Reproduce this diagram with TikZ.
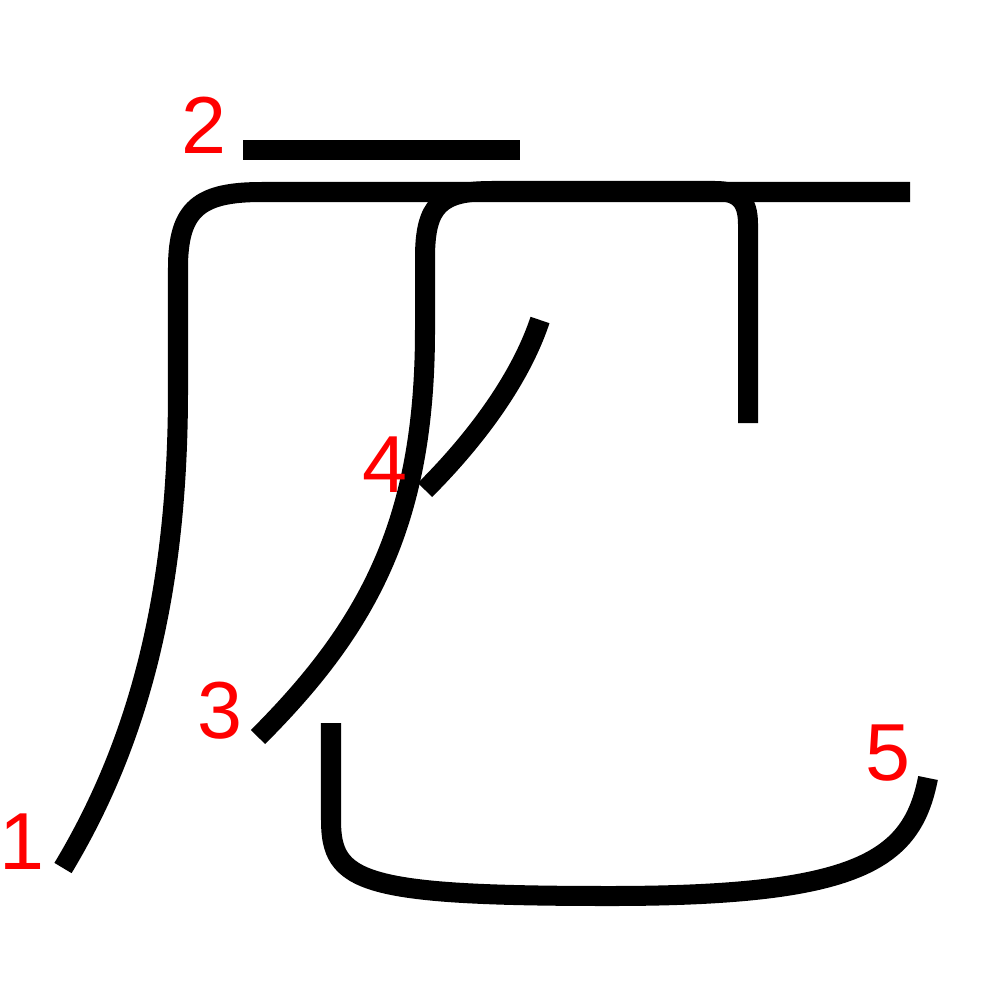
\documentclass[tikz,border=0pt]{standalone}
\usepackage{fontspec}
\setmainfont{Liberation Sans}
\begin{document}
\begin{tikzpicture}[x=0.01cm, y=-0.01cm,
    stroke/.style={line width=0.2cm, line cap=butt, line join=round},
    num/.style={text=red, font=\fontsize{23}{23}\selectfont, inner sep=0pt}]
			      \useasboundingbox (0, 0) rectangle (1000, 1000);

			      \draw[stroke] (63, 868) .. controls (140, 740) and (178, 590) .. (178, 390)
			                    -- (178, 268) .. controls (178, 208) and (200, 192) .. (262, 192)
			                    -- (910, 192);
			      \draw[stroke] (243, 150) -- (520, 150);
			      \draw[stroke] (258, 737) .. controls (370, 625) and (425, 520) .. (425, 330)
			                    -- (425, 258) .. controls (425, 205) and (440, 191) .. (492, 191)
			                    -- (715, 191) .. controls (738, 191) and (748, 200) .. (748, 224)
			                    -- (748, 423);
			      \draw[stroke] (425, 490) .. controls (475, 440) and (520, 380) .. (540, 320);
			      \draw[stroke] (331, 723) -- (331, 820) .. controls (331, 882) and (360, 896) .. (610, 896)
			                    .. controls (860, 896) and (912, 860) .. (928, 778);

			      \node[num] (n1) at (22, 842) {1};
			      \node[num] (n2) at (204, 125) {2};
			      \node[num] (n3) at (220, 711) {3};
			      \node[num] (n4) at (385, 465) {4};
			      \node[num] (n5) at (888, 753) {5};
		      \end{tikzpicture}
\end{document}
